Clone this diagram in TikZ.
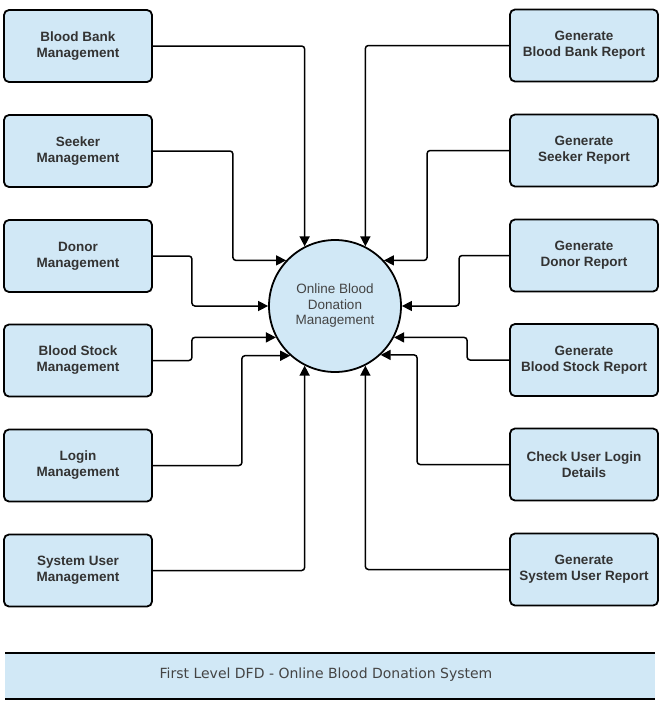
\documentclass[tikz,border=0pt]{standalone}
\usepackage{fontspec}
\setmainfont{Liberation Sans}
\newfontfamily\footfont{DejaVu Sans}
\usetikzlibrary{arrows.meta, positioning, calc}
\definecolor{boxblue}{RGB}{209, 232, 246}
\definecolor{textgray}{RGB}{51, 51, 51}
\definecolor{capgray}{RGB}{68, 68, 68}

\begin{document}
\begin{tikzpicture}[
  x=1pt, y=-1pt,
  proc/.style={draw, fill=boxblue, line width=1.8pt, rounded corners=5pt,
    minimum width=148pt, minimum height=72pt, align=center, text=textgray,
    font=\fontsize{13.5pt}{16pt}\selectfont\bfseries},
  hub/.style={draw, circle, fill=boxblue, line width=1.8pt, minimum size=132pt,
    inner sep=0pt, align=center, text=capgray,
    font=\fontsize{13.5pt}{15.5pt}\selectfont},
  flow/.style={-{Triangle[length=10pt, width=10pt]}, line width=1.5pt, rounded corners=3pt}
]
  \useasboundingbox (0, 0) rectangle (660, 704);

  % Centre process
  \node[hub] (sys) at (335, 306) {Online Blood\\Donation\\Management};

  % Left column
  \node[proc] (bank) at (78, 46) {Blood Bank\\Management};
  \node[proc] (seek) at (78, 151) {Seeker\\Management};
  \node[proc] (donor) at (78, 256) {Donor\\Management};
  \node[proc] (stock) at (78, 360.5) {Blood Stock\\Management};
  \node[proc] (login) at (78, 465.5) {Login\\Management};
  \node[proc] (suser) at (78, 570.5) {System User\\Management};

  % Right column
  \node[proc] (rbank) at (584, 45.5) {Generate\\Blood Bank Report};
  \node[proc] (rseek) at (584, 150.5) {Generate\\Seeker Report};
  \node[proc] (rdonor) at (584, 255.5) {Generate\\Donor Report};
  \node[proc] (rstock) at (584, 360) {Generate\\Blood Stock Report};
  \node[proc] (rlogin) at (584, 464.5) {Check User Login\\Details};
  \node[proc] (rsuser) at (584, 569.5) {Generate\\System User Report};

  % Left flows
  \draw[flow] (bank.east) -| (sys.117);
  \draw[flow] (seek.east) -- ++(80, 0) |- (sys.137);
  \draw[flow] (donor.east) -- ++(39, 0) |- (sys.west);
  \draw[flow] (stock.east) -- ++(39, 0) |- (sys.208);
  \draw[flow] (login.east) -- ++(89, 0) |- (sys.228);
  \draw[flow] (suser.east) -| (sys.243);

  % Right flows
  \draw[flow] (rbank.west) -| (sys.63);
  \draw[flow] (rseek.west) -- ++(-82, 0) |- (sys.43);
  \draw[flow] (rdonor.west) -- ++(-50, 0) |- (sys.east);
  \draw[flow] (rstock.west) -- ++(-42, 0) |- (sys.332);
  \draw[flow] (rlogin.west) -- ++(-92, 0) |- (sys.313);
  \draw[flow] (rsuser.west) -| (sys.297);

  % Caption bar
  \fill[boxblue] (5, 653) rectangle (655, 699);
  \draw[line width=1.5pt] (5, 653) -- (655, 653);
  \draw[line width=1.5pt] (5, 699) -- (655, 699);
  \node[text=capgray, font=\footfont\fontsize{14pt}{16pt}\selectfont] (cap) at (326, 675)
    {First Level DFD - Online Blood Donation System};
\end{tikzpicture}
\end{document}
